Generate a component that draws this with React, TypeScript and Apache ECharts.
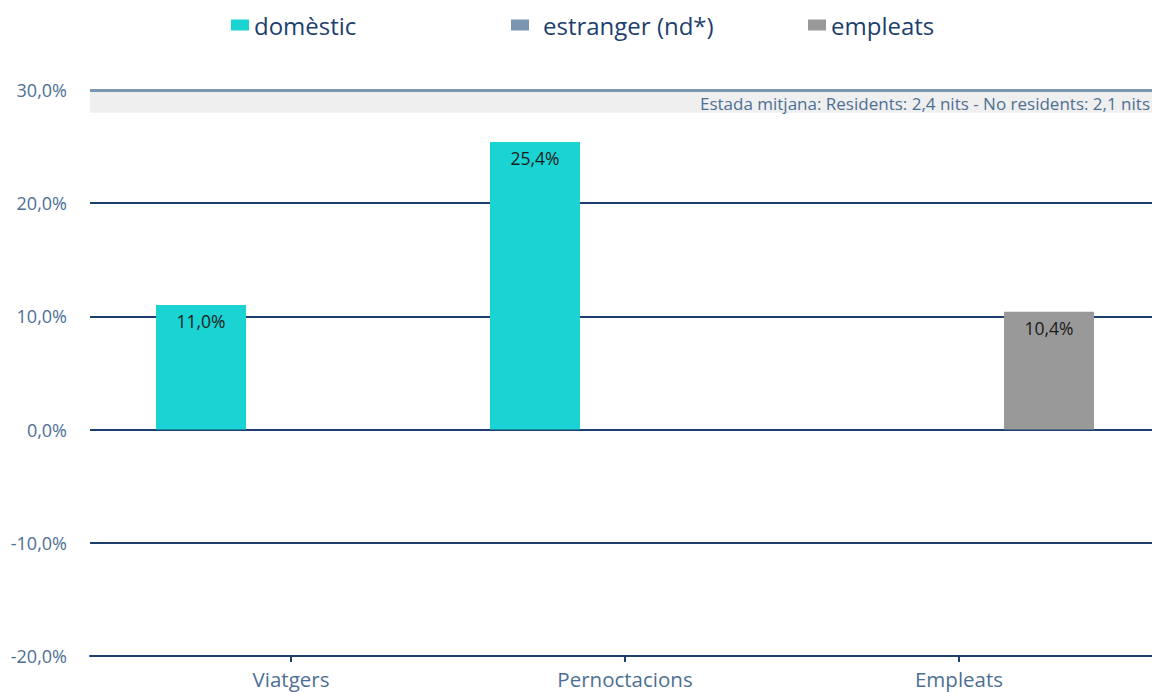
import React, { useEffect, useRef } from "react";
import * as echarts from "echarts";

const categories = ["Viatgers", "Pernoctacions", "Empleats"];
const domestic = [11.0, 25.4, null];
const foreign = [null, null, null];
const employees = [null, null, 10.4];
const seriesNames = ["domèstic", "estranger (nd*)", "empleats"];
const yTicks = [-20, -10, 0, 10, 20, 30];
const noteText = "Estada mitjana: Residents: 2,4 nits - No residents: 2,1 nits";

const FONT = "'Open Sans', 'Noto Sans', sans-serif";
const NAVY = "#1d3f6e";
const STEEL = "#7a96b0";
const LABEL = "#4d6f94";

const fmt = (v: number) => v.toFixed(1).replace(".", ",") + "%";

export default function App() {
  const ref = useRef<HTMLDivElement>(null);
  useEffect(() => {
    if (!ref.current) return;
    const chart = echarts.init(ref.current, null, { renderer: "svg" });
    const yMin = yTicks[0];
    const yMax = yTicks[yTicks.length - 1];
    const barLabel = {
      show: true,
      position: "insideTop",
      distance: 7,
      color: "#1a1a1a",
      fontSize: 17.5,
      fontFamily: FONT,
      formatter: (p: any) => fmt(p.value),
    };
    const legendBase = {
      top: 8,
      itemWidth: 18,
      itemHeight: 11,
      icon: "rect",
      textStyle: { color: NAVY, fontSize: 24, fontFamily: FONT },
      selectedMode: false,
    };
    chart.setOption({
      animation: false,
      backgroundColor: "#ffffff",
      legend: [
        { ...legendBase, left: 226, itemGap: 5, data: [seriesNames[0]] },
        { ...legendBase, left: 506, data: [{ name: seriesNames[1] }], textStyle: { ...legendBase.textStyle, padding: [0, 0, 0, 9] } },
        { ...legendBase, left: 803, data: [seriesNames[2]] },
      ],
      grid: [
        { left: 124, right: 26, top: 90, bottom: 37 },
        { left: 90, right: 0, top: 90, bottom: 37 },
      ],
      xAxis: [
        {
          type: "category",
          gridIndex: 0,
          data: categories,
          axisLine: { show: false, onZero: false },
          axisTick: { show: true, alignWithLabel: true, length: 6, lineStyle: { color: NAVY, width: 2 } },
          axisLabel: { color: LABEL, fontSize: 20.5, fontFamily: FONT, margin: 12 },
        },
        {
          type: "category",
          gridIndex: 1,
          data: categories,
          axisLine: { show: true, onZero: false, lineStyle: { color: NAVY, width: 2 } },
          axisTick: { show: false },
          axisLabel: { show: false },
        },
      ],
      yAxis: [
        { type: "value", gridIndex: 0, min: yMin, max: yMax, interval: 10, show: false, splitLine: { show: false } },
        {
          type: "value",
          gridIndex: 1,
          min: yMin,
          max: yMax,
          interval: 10,
          z: 1,
          axisLine: { show: false },
          axisTick: { show: false },
          axisLabel: { color: LABEL, fontSize: 18, fontFamily: FONT, margin: 23, formatter: (v: number) => fmt(v) },
          splitLine: { show: true, lineStyle: { color: NAVY, width: 2 } },
        },
      ],
      series: [
        {
          name: seriesNames[0],
          type: "bar",
          xAxisIndex: 0,
          yAxisIndex: 0,
          data: domestic,
          barWidth: 90,
          barGap: "0%",
          itemStyle: { color: "#1ad3d3" },
          label: barLabel,
        },
        {
          name: seriesNames[1],
          type: "bar",
          xAxisIndex: 0,
          yAxisIndex: 0,
          data: foreign,
          barWidth: 90,
          barGap: "0%",
          itemStyle: { color: STEEL },
          label: barLabel,
        },
        {
          name: seriesNames[2],
          type: "bar",
          xAxisIndex: 0,
          yAxisIndex: 0,
          data: employees,
          barWidth: 90,
          barGap: "0%",
          itemStyle: { color: "#999999" },
          label: barLabel,
        },
        {
          name: "note",
          type: "line",
          xAxisIndex: 1,
          yAxisIndex: 1,
          data: [],
          z: 3,
          markArea: {
            silent: true,
            itemStyle: { color: "#efefef" },
            label: {
              show: true,
              position: "insideRight",
              distance: 2,
              offset: [0, 2],
              color: LABEL,
              fontSize: 17,
              fontFamily: FONT,
            },
            data: [[{ yAxis: yMax, name: noteText }, { yAxis: 28 }]],
          },
          markLine: {
            silent: true,
            symbol: "none",
            label: { show: false },
            lineStyle: { color: STEEL, width: 3, type: "solid" },
            data: [{ yAxis: yMax }],
          },
        },
      ],
    });
    return () => chart.dispose();
  }, []);
  return <div ref={ref} style={{ position: "absolute", left: 0, top: 0, width: 1152, height: 693 }} />;
}
